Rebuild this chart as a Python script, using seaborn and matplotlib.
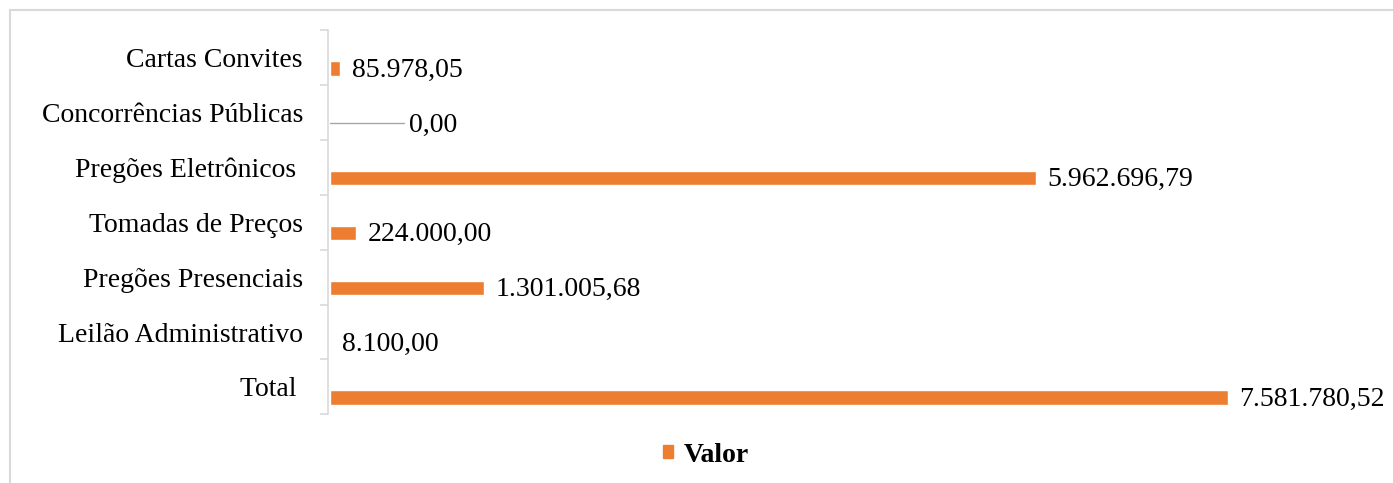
import matplotlib
matplotlib.use("Agg")
import matplotlib.pyplot as plt
import matplotlib.patches as mpatches
import seaborn as sns
import pandas as pd
import numpy as np

categories = ["Cartas Convites", "Concorrências Públicas", "Pregões Eletrônicos ",
              "Tomadas de Preços", "Pregões Presenciais", "Leilão Administrativo", "Total "]
values = [85978.05, 0.00, 5962696.79, 224000.00, 1301005.68, 8100.00, 7581780.52]
value_labels = ["85.978,05", "0,00", "5.962.696,79", "224.000,00", "1.301.005,68", "8.100,00", "7.581.780,52"]
series_name = "Valor"

ORANGE = "#ED7D31"
W, H = 1393, 483
FS = 20

sns.set_theme(style="white")
plt.rcParams["font.family"] = ["Liberation Serif", "DejaVu Serif"]
plt.rcParams["text.color"] = "black"
plt.rcParams["ytick.color"] = "black"

fig = plt.figure(figsize=(W / 100, H / 100), dpi=100)
ax_left, ax_right = 328 / W, 1300 / W
ax_top, ax_bottom = 1 - 30.3 / H, 1 - 414.3 / H
ax = fig.add_axes([ax_left, ax_bottom, ax_right - ax_left, ax_top - ax_bottom])

df = pd.DataFrame({"cat": categories, "val": values, "series": series_name})
sns.barplot(data=df, x="val", y="cat", hue="series", palette=[ORANGE],
            width=0.265, orient="h", ax=ax, legend=False, saturation=1)

px_per_unit = (1228 - 330) / 7581780.52
ax.set_xlim(-1.5 / px_per_unit, (1300 - 329.5) / px_per_unit)
off = 0.695
ax.set_ylim(len(categories) - 1 + (1 - off), -off)

n = len(categories)
ax.set_yticks(np.arange(n) - (off - 0.5))
ax.set_yticklabels(categories, fontsize=FS, color="black")
ax.set_yticks(np.arange(n + 1) - off, minor=True)
ax.tick_params(axis="y", which="major", length=0, pad=18, labelcolor="black")
ax.tick_params(axis="y", which="minor", length=6, width=1.2, color="#D9D9D9", left=True)
ax.set_xticks([])
ax.set_xlabel("")
ax.set_ylabel("")
for s in ["top", "right", "bottom"]:
    ax.spines[s].set_visible(False)
ax.spines["left"].set_color("#D9D9D9")
ax.spines["left"].set_linewidth(1.2)

# value labels
for i, (v, lab) in enumerate(zip(values, value_labels)):
    if v == 0:
        xt = (405 - 329.5) / px_per_unit
        ax.plot([0, xt * 0.99], [i, i], color="#A6A6A6", lw=1.0)
        ax.text(xt + 4 / px_per_unit, i + 0.03, lab, va="center", ha="left", fontsize=FS, color="black")
    else:
        ax.text(v + 12 / px_per_unit, i + 0.03, lab, va="center", ha="left", fontsize=FS, color="black")

# legend
handle = mpatches.Patch(color=ORANGE, label=series_name)
leg = fig.legend(handles=[handle], loc="center", bbox_to_anchor=(706 / W, 1 - 455 / H),
                 frameon=False, prop={"weight": "bold", "size": FS},
                 handlelength=0.36, handleheight=0.36, handletextpad=0.4)
for t in leg.get_texts():
    t.set_color("black")

# outer frame (partly cut off)
fig.patches.append(mpatches.Rectangle((9.5 / W, -0.5), 1.2, 1.5 - 10 / H,
                                      transform=fig.transFigure, fill=False,
                                      edgecolor="#D9D9D9", lw=1.5))

fig.savefig("out.png", dpi=100)
